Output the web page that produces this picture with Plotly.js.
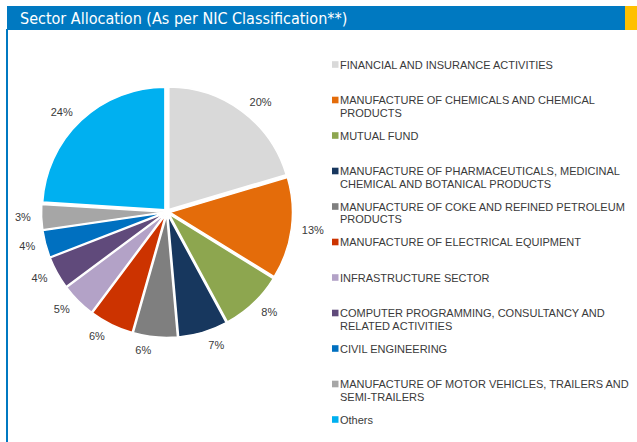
<!DOCTYPE html>
<html><head><meta charset="utf-8">
<script src="https://cdn.plot.ly/plotly-3.0.1.min.js"></script>
<style>html,body{margin:0;padding:0;background:#fff;overflow:hidden}#chart{width:637px;height:442px}</style>
</head><body><div id="chart"></div>
<script>
// ---- data ----
const chartTitle = "Sector Allocation (As per NIC Classification**)";
const categories = [
  "FINANCIAL AND INSURANCE ACTIVITIES",
  "MANUFACTURE OF CHEMICALS AND CHEMICAL PRODUCTS",
  "MUTUAL FUND",
  "MANUFACTURE OF PHARMACEUTICALS, MEDICINAL CHEMICAL AND BOTANICAL PRODUCTS",
  "MANUFACTURE OF COKE AND REFINED PETROLEUM PRODUCTS",
  "MANUFACTURE OF ELECTRICAL EQUIPMENT",
  "INFRASTRUCTURE SECTOR",
  "COMPUTER PROGRAMMING, CONSULTANCY AND RELATED ACTIVITIES",
  "CIVIL ENGINEERING",
  "MANUFACTURE OF MOTOR VEHICLES, TRAILERS AND SEMI-TRAILERS",
  "Others"
];
const legendLabels = [
  ["FINANCIAL AND INSURANCE ACTIVITIES"],
  ["MANUFACTURE OF CHEMICALS AND CHEMICAL", "PRODUCTS"],
  ["MUTUAL FUND"],
  ["MANUFACTURE OF PHARMACEUTICALS, MEDICINAL", "CHEMICAL AND BOTANICAL PRODUCTS"],
  ["MANUFACTURE OF COKE AND REFINED PETROLEUM", "PRODUCTS"],
  ["MANUFACTURE OF ELECTRICAL EQUIPMENT"],
  ["INFRASTRUCTURE SECTOR"],
  ["COMPUTER PROGRAMMING, CONSULTANCY AND", "RELATED ACTIVITIES"],
  ["CIVIL ENGINEERING"],
  ["MANUFACTURE OF MOTOR VEHICLES, TRAILERS AND", "SEMI-TRAILERS"],
  ["Others"]
];
const allocation = [20.4, 13.4, 8.3, 6.5, 5.8, 5.8, 4.6, 4.3, 3.6, 3.3, 24.0];
const sliceColors = ["#D9D9D9", "#E46C0A", "#8DA64F", "#17375E", "#7F7F7F", "#CC3300",
                     "#B3A2C7", "#604A7B", "#0070C0", "#A6A6A6", "#00B0F0"];

// ---- layout helpers ----
const W = 637, H = 442;
const px = x => x / W;
const py = y => (H - y) / H;

const cx = 167, cy = 212, outer = 125.5, labelOuter = 133, pullAmt = 0.025;
const domainFor = r => ({x: [px(cx - r), px(cx + r)], y: [py(cy + r), py(cy - r)]});

const shapes = [
  {type: "rect", xref: "paper", yref: "paper", x0: px(7), x1: px(625), y0: py(30), y1: py(6),
   fillcolor: "#0079C1", line: {width: 0}, layer: "below"},
  {type: "rect", xref: "paper", yref: "paper", x0: px(625), x1: px(637), y0: py(30), y1: py(6),
   fillcolor: "#FFC000", line: {width: 0}, layer: "below"},
  {type: "rect", xref: "paper", yref: "paper", x0: px(6), x1: px(8), y0: py(442), y1: py(29),
   fillcolor: "#0079C1", line: {width: 0}, layer: "below"}
];
const annotations = [
  {xref: "paper", yref: "paper", x: px(18), y: py(18.5), xanchor: "left", yanchor: "middle",
   text: chartTitle, showarrow: false,
   font: {family: "DejaVu Sans Condensed, Liberation Sans, Arial", size: 16, color: "#FFFFFF"}}
];

const legY0 = 64.5, legStep = 35.5, legLine = 12.5;
legendLabels.forEach((lines, i) => {
  const y = legY0 + i * legStep;
  shapes.push({type: "rect", xref: "paper", yref: "paper",
    x0: px(332), x1: px(338.5), y0: py(y + 3.3), y1: py(y - 3.3),
    fillcolor: sliceColors[i], line: {width: 0}});
  lines.forEach((t, j) => {
    annotations.push({xref: "paper", yref: "paper", x: px(338), y: py(y + j * legLine),
      xanchor: "left", yanchor: "middle", text: t, showarrow: false,
      font: {family: "Liberation Sans, Arial", size: 11, color: "#3A3A3A"}});
  });
});

const pieTrace = {
  type: "pie",
  labels: categories,
  values: allocation,
  sort: false,
  direction: "clockwise",
  rotation: 0,
  pull: pullAmt,
  marker: {colors: sliceColors, line: {color: "#FFFFFF", width: 1.5}},
  textinfo: "none",
  hoverinfo: "label+percent",
  showlegend: false,
  domain: domainFor(outer)
};

// transparent twin used only to place the percentage labels a little further out
const labelTrace = {
  type: "pie",
  labels: categories,
  values: allocation,
  sort: false,
  direction: "clockwise",
  rotation: 0,
  pull: pullAmt,
  marker: {colors: sliceColors.map(() => "rgba(0,0,0,0)"), line: {width: 0}},
  textposition: "outside",
  texttemplate: "%{percent:.0%}",
  outsidetextfont: {family: "Liberation Sans, Arial", size: 11, color: "#3A3A3A"},
  hoverinfo: "skip",
  showlegend: false,
  domain: domainFor(labelOuter)
};

const layout = {
  width: W, height: H,
  margin: {l: 0, r: 0, t: 0, b: 0},
  paper_bgcolor: "#FFFFFF",
  plot_bgcolor: "#FFFFFF",
  showlegend: false,
  shapes: shapes,
  annotations: annotations
};

Plotly.newPlot("chart", [pieTrace, labelTrace], layout, {displayModeBar: false, staticPlot: true});
</script>
</body></html>
